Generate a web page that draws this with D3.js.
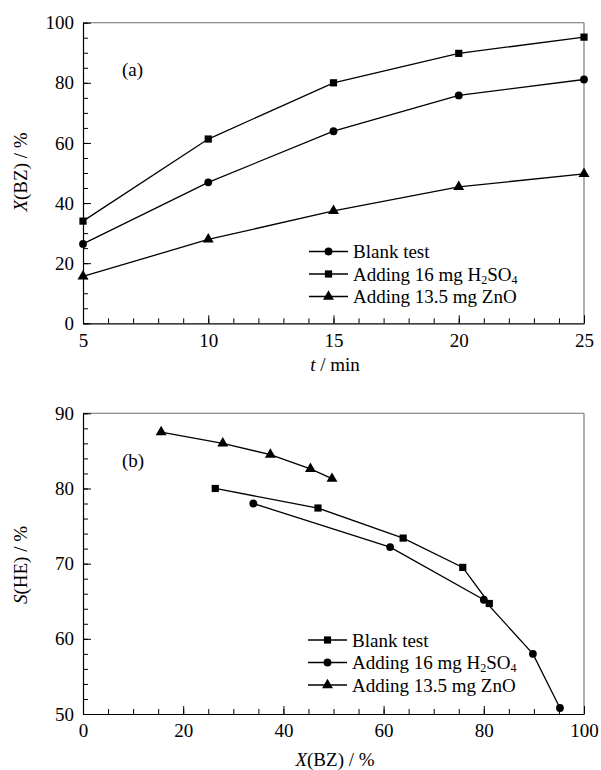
<!DOCTYPE html>
<html>
<head>
<meta charset="utf-8">
<script src="https://cdn.jsdelivr.net/npm/d3@7"></script>
<style>
  html, body { margin: 0; padding: 0; background: #fff; }
  svg { display: block; }
  svg text { font-family: "Liberation Serif", "Times New Roman", serif !important; fill: #000; }
</style>
</head>
<body>
<svg id="chart" width="601" height="770" font-family="Liberation Serif, Times New Roman, serif"></svg>
<script>
// Reaction time, min
const times = [5, 10, 15, 20, 25];

// Benzene conversion X(BZ), %
const blankX = [26.4, 46.9, 63.9, 75.8, 81.1];
const h2so4X = [34.0, 61.3, 80.0, 89.8, 95.2];
const znoX   = [15.6, 27.9, 37.4, 45.4, 49.7];

// Selectivity to hexene S(HE), %
const blankS = [80.0, 77.4, 73.4, 69.5, 64.7];
const h2so4S = [78.0, 72.2, 65.2, 58.0, 50.8];
const znoS   = [87.5, 86.0, 84.5, 82.6, 81.3];

// Axis ticks
const ticksTopX = [5, 10, 15, 20, 25];
const ticksTopY = [0, 20, 40, 60, 80, 100];
const ticksBotX = [0, 20, 40, 60, 80, 100];
const ticksBotY = [50, 60, 70, 80, 90];

const svg = d3.select("#chart");
const FS = 19;
const FONT = "Liberation Serif, Times New Roman, serif";

const symCircle = d3.symbol().type(d3.symbolCircle).size(48)();
const symSquare = d3.symbol().type(d3.symbolSquare).size(52)();
const symTri = d3.symbol().type(d3.symbolTriangle).size(52)();

function axisFrame(g, x, y, xTicks, xMinor, yTicks, yMinor) {
  const [x0, x1] = x.range();
  const [y0, y1] = y.range();
  // top and right frame lines
  g.append("line").attr("x1", x0).attr("x2", x1).attr("y1", y1).attr("y2", y1)
    .attr("stroke", "#6e6e6e").attr("stroke-width", 1.1);
  g.append("line").attr("x1", x1).attr("x2", x1).attr("y1", y1).attr("y2", y0)
    .attr("stroke", "#6e6e6e").attr("stroke-width", 1.1);

  const gx = g.append("g").attr("transform", `translate(0,${y0})`);
  gx.call(d3.axisBottom(x).tickValues(xMinor).tickSize(-5).tickFormat(""))
    .call(s => s.select(".domain").remove());
  gx.append("g").call(d3.axisBottom(x).tickValues(xTicks).tickSizeInner(-8).tickSizeOuter(0).tickPadding(10));

  const gy = g.append("g").attr("transform", `translate(${x0},0)`);
  gy.call(d3.axisLeft(y).tickValues(yMinor).tickSize(-5).tickFormat(""))
    .call(s => s.select(".domain").remove());
  gy.append("g").call(d3.axisLeft(y).tickValues(yTicks).tickSizeInner(-8).tickSizeOuter(0).tickPadding(9));

  g.selectAll("g").attr("font-family", FONT).attr("font-size", FS);
  g.selectAll(".tick text").attr("font-family", FONT).attr("font-size", FS);
  g.selectAll(".domain").attr("stroke", "#000").attr("stroke-width", 1.2);
  g.selectAll(".tick line").attr("stroke", "#000").attr("stroke-width", 1);
}

function series(g, x, y, xs, ys, sym) {
  const pts = xs.map((v, i) => [x(v), y(ys[i])]);
  g.append("path").attr("d", d3.line()(pts))
    .attr("fill", "none").attr("stroke", "#000").attr("stroke-width", 1.3);
  g.selectAll(null).data(pts).join("path")
    .attr("d", sym).attr("transform", d => `translate(${d[0]},${d[1]})`)
    .attr("fill", "#000");
}

function legend(g, x0, yRows, items) {
  items.forEach((it, i) => {
    const yy = yRows[i];
    g.append("line").attr("x1", x0).attr("x2", x0 + 39).attr("y1", yy).attr("y2", yy)
      .attr("stroke", "#000").attr("stroke-width", 1.3);
    g.append("path").attr("d", it.sym).attr("transform", `translate(${x0 + 19.5},${yy})`).attr("fill", "#000");
    const t = g.append("text").attr("x", x0 + 44).attr("y", yy + 6.5).attr("font-size", FS);
    it.parts.forEach(p => {
      const ts = t.append("tspan").text(p.t);
      if (p.sub) ts.attr("font-size", 12).attr("baseline-shift", "-25%");
    });
  });
}

const h2so4Parts = [{t: "Adding 16 mg H"}, {t: "2", sub: true}, {t: "SO"}, {t: "4", sub: true}];
const blankParts = [{t: "Blank test"}];
const znoParts = [{t: "Adding 13.5 mg ZnO"}];

// ---- (a) conversion vs time ----
const gA = svg.append("g");
const xA = d3.scaleLinear().domain([5, 25]).range([83, 584]);
const yA = d3.scaleLinear().domain([0, 100]).range([323.3, 22.7]);
axisFrame(gA, xA, yA, ticksTopX, d3.range(5, 26, 1), ticksTopY, d3.range(0, 101, 5));
series(gA, xA, yA, times, h2so4X, symSquare);
series(gA, xA, yA, times, blankX, symCircle);
series(gA, xA, yA, times, znoX, symTri);
gA.append("text").attr("x", 122).attr("y", 76).attr("font-size", FS).text("(a)");
legend(gA, 309, [251.5, 274, 296.5], [
  {sym: symCircle, parts: blankParts},
  {sym: symSquare, parts: h2so4Parts},
  {sym: symTri, parts: znoParts}
]);
const xlA = gA.append("text").attr("x", 335).attr("y", 371).attr("text-anchor", "middle").attr("font-size", FS);
xlA.append("tspan").attr("font-style", "italic").text("t");
xlA.append("tspan").text(" / min");
const ylA = gA.append("text").attr("transform", "translate(27,172) rotate(-90)").attr("text-anchor", "middle").attr("font-size", FS);
ylA.append("tspan").attr("font-style", "italic").text("X");
ylA.append("tspan").text("(BZ) / %");

// ---- (b) selectivity vs conversion ----
const gB = svg.append("g");
const xB = d3.scaleLinear().domain([0, 100]).range([83, 584]);
const yB = d3.scaleLinear().domain([50, 90]).range([714, 413.3]);
axisFrame(gB, xB, yB, ticksBotX, d3.range(0, 101, 5), ticksBotY, d3.range(50, 91, 2));
series(gB, xB, yB, znoX, znoS, symTri);
series(gB, xB, yB, blankX, blankS, symSquare);
series(gB, xB, yB, h2so4X, h2so4S, symCircle);
gB.append("text").attr("x", 122).attr("y", 467).attr("font-size", FS).text("(b)");
legend(gB, 308, [640, 662.5, 685], [
  {sym: symSquare, parts: blankParts},
  {sym: symCircle, parts: h2so4Parts},
  {sym: symTri, parts: znoParts}
]);
const xlB = gB.append("text").attr("x", 335).attr("y", 766).attr("text-anchor", "middle").attr("font-size", FS);
xlB.append("tspan").attr("font-style", "italic").text("X");
xlB.append("tspan").text("(BZ) / %");
const ylB = gB.append("text").attr("transform", "translate(27,565) rotate(-90)").attr("text-anchor", "middle").attr("font-size", FS);
ylB.append("tspan").attr("font-style", "italic").text("S");
ylB.append("tspan").text("(HE) / %");
</script>
</body>
</html>
